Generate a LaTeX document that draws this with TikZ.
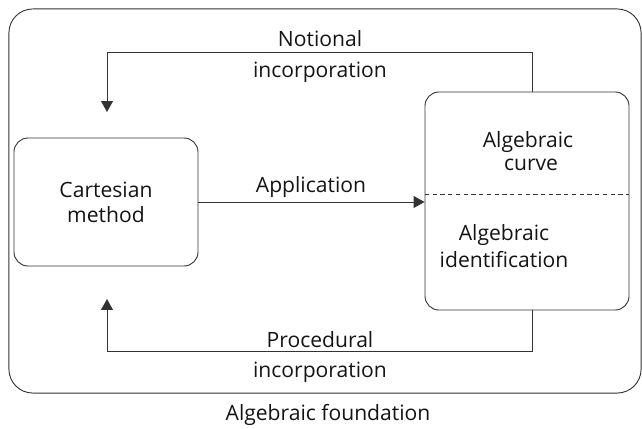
\documentclass[tikz,border=0pt]{standalone}
\usepackage{fontspec}
\setmainfont{Open Sans}
\usetikzlibrary{arrows.meta}
\definecolor{ln}{HTML}{333333}
\definecolor{tx}{HTML}{141414}
\tikzset{
  box/.style={draw=ln, line width=0.65pt, rounded corners=10pt, inner sep=0pt},
  lbl/.style={anchor=base, inner sep=0pt, text=tx, font=\fontsize{15}{17.7}\selectfont},
  conn/.style={draw=ln, line width=0.65pt},
  tip/.style={-{Triangle[width=8.5pt,length=7.8pt]}}
}
\begin{document}
\begin{tikzpicture}[x=0.025cm,y=-0.025cm]
\useasboundingbox (0,0) rectangle (642,428);
% outer
\node[box, rounded corners=17pt, minimum width=15.8cm, minimum height=9.6cm] (outer) at (325,201) {};
% boxes
\node[box, minimum width=4.6cm, minimum height=3.2cm, align=center, text=tx,
      font=\fontsize{15}{17.7}\selectfont] (cart) at (106,202) {Cartesian\\method};
\node[box, minimum width=5.1cm, minimum height=5.45cm] (alg) at (527,201) {};
\coordinate (dl) at (425,194);
\coordinate (dr) at (629,194);
\draw[conn, dashed, dash pattern=on 3pt off 2.5pt] (dl) -- (dr);
% texts in algebraic box
\node[lbl] (ac1) at (528,147) {Algebraic};
\node[lbl] (ac2) at (531,170) {curve};
\node[lbl] (ai1) at (504,240) {Algebraic};
\node[lbl] (ai2) at (504,267) {identification};
% connectors
\coordinate (n1) at (532,52);
\coordinate (n2) at (107,52);
\coordinate (n3) at (107,112);
\draw[conn, tip] (alg.north -| n1) -- (n1) -- (n2) -- (n3);
\coordinate (p1) at (532,351);
\coordinate (p2) at (107,351);
\coordinate (p3) at (107,299);
\draw[conn, tip] (alg.south -| p1) -- (p1) -- (p2) -- (p3);
\draw[conn, tip] (cart.east) -- (alg.west |- cart.east);
% labels
\node[lbl] (not) at (320,46.5) {Notional};
\node[lbl] (inc1) at (320,77.5) {incorporation};
\node[lbl] (app) at (311,192) {Application};
\node[lbl] (proc) at (320,347) {Procedural};
\node[lbl] (inc2) at (320,377) {incorporation};
\node[lbl] (found) at (328,420) {Algebraic foundation};
\end{tikzpicture}
\end{document}
